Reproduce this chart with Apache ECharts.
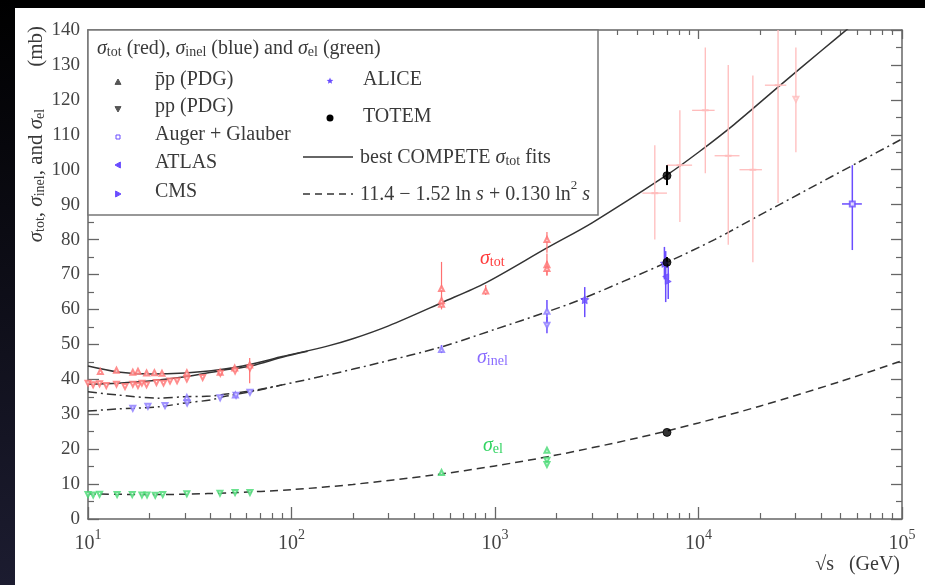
<!DOCTYPE html>
<html>
<head>
<meta charset="utf-8">
<title>pp cross sections</title>
<script src="https://cdn.jsdelivr.net/npm/echarts@6/dist/echarts.min.js"></script>
<style>
  html, body { margin: 0; padding: 0; background: #fff; }
  #chart { width: 925px; height: 585px; }
</style>
</head>
<body>
<div id="chart"></div>
<script>
// sqrt(s) in GeV, cross sections in mb
var xTickValues = [10, 100, 1000, 10000, 100000];
var xTickExps = ['1', '2', '3', '4', '5'];
var yTicks = [0, 10, 20, 30, 40, 50, 60, 70, 80, 90, 100, 110, 120, 130, 140];

// fit curves
var fitTotPbarp = [[10,43.8],[14,42.1],[20,41.5],[30,41.8],[44,42.7],[64,44.4],[90,46.5],[150,49.5],[200,51.6],[300,55.3],[550,62.0],[900,67.6],[1800,77.6],[3000,84.8],[7000,98.5],[10000,105],[15000,113],[25000,124],[40000,134],[60000,142.5]];
var fitTotPp = [[10,38.6],[14,38.9],[20,39.5],[30,40.7],[44,42.4],[64,43.9],[90,46.3],[120,48.0]];
var fitInelPbarp = [[10,36.4],[14,35.5],[22,34.6],[30,35.0],[40,35.2],[48,35.8],[64,36.7],[90,38.4],[150,41.2],[270,44.7],[540,49.2],[1000,54.3],[1800,59.3],[2600,62.7],[7000,73.5],[12000,80.0],[20000,87.0],[34000,94.2],[60000,101.9],[100000,108.8]];
var fitInelPp = [[10,30.9],[14,31.5],[22,32.1],[30,33.2],[40,34.1],[48,35.2],[64,36.5],[90,38.4]];
var fitEl = [[10,7.2],[20,7.0],[30,7.1],[50,7.5],[100,8.4],[200,9.9],[500,12.6],[1000,15.2],[2000,18.3],[5000,23.2],[10000,27.5],[20000,32.3],[50000,39.4],[100000,45.3]];

// sigma_tot points
var pbarpTot = [[11.5,42.2],[13.8,42.6],[16.6,42.0],[17.6,42.3],[19.4,41.8],[21.2,41.9],[23.1,41.7],[30.6,41.9],[44.6,42.0],[52.6,43.2],[62.3,44.1],[546,61.5],[546,62.5],[546,66.0],[900,65.3],[1800,80.0],[1800,72.8],[1800,71.7]];
var ppTot = [[10.0,38.9],[10.6,38.4],[11.4,38.7],[12.3,38.2],[13.8,38.6],[15.2,37.9],[16.6,38.6],[17.6,38.2],[18.4,38.9],[19.4,38.4],[21.7,39.1],[23.5,38.9],[25.3,39.5],[27.4,39.6],[30.6,40.1],[36.6,40.5],[44.7,41.7],[52.8,42.4],[62.5,43.2]];
var cosmicTot = [[6100,93.3],[8100,101.3],[10800,117],[14000,104],[18500,100],[24600,124.2]];
var cosmicTotPp = [[30100,120.2]];

// sigma_inel points
var pbarpInel = [[30.6,34.8],[53.0,35.5],[546,48.5],[1800,59.5]];
var ppInel = [[16.6,31.7],[19.7,32.3],[23.9,32.5],[30.7,33.2],[44.6,34.7],[53.4,35.4],[62.5,36.3],[1800,55.5]];
var augerInel = [[57000,90.2]];
var atlasInel = [[6900,69.4]];
var cmsInel = [[7100,68.0]];
var aliceInel = [[2760,62.8],[6800,73.2]];

// sigma_el points
var pbarpEl = [[546,13.3],[1800,19.7]];
var ppEl = [[10,7.0],[10.6,6.9],[11.4,7.1],[13.9,7.0],[16.5,7.0],[18.4,6.9],[19.5,6.9],[21.4,6.8],[23.3,7.0],[30.6,7.2],[44.5,7.4],[52.8,7.6],[62.5,7.6],[1800,16.8],[1800,15.6]];

// TOTEM: tot, inel, el at 7 TeV
var totem = [[7000,98.3],[7000,73.5],[7000,24.8]];

// error bars: [x, y, yLow, yHigh, xLow, xHigh]
var errRed = [[62.3,44.1,38.9,46.1,62.3,62.3],[546,66.0,60.0,73.6,546,546],[546,62.5,61.0,64.0,546,546],[900,65.3,64.1,67.0,900,900],[1800,80.0,76.2,82.2,1800,1800],[1800,72.8,69.7,76.0,1800,1800],[1800,71.7,69.7,73.7,1800,1800]];
var errCosmic = [[6100,93.3,80,107,5300,7000],[8100,101.3,85,117,7000,9300],[10800,117,99,135,9300,12000],[14000,104,78.5,130,12000,15900],[18500,100,73.5,127,15900,20500],[24600,124.2,90.5,140,21200,27000],[30100,120.2,105,135,30100,30100]];
var errBlue = [[546,48.5,47.5,49.8,546,546],[1800,59.5,56.5,62.7,1800,1800],[1800,55.5,53.2,57.8,1800,1800],[2760,62.8,57.8,66.4,2760,2760],[6800,73.2,68.6,77.9,6800,6800],[6900,69.4,62.1,76.7,6900,6900],[7100,68.0,63.0,73.0,7100,7100],[57000,90.2,77,101.3,50700,63500]];
var errBlack = [[7000,98.3,95.6,101.3,7000,7000],[7000,73.5,72.0,75.0,7000,7000]];

var xMinor = [];
[10, 100, 1000, 10000].forEach(function (d) {
  for (var k = 2; k <= 9; k++) xMinor.push(d * k);
});

var serif = 'Liberation Serif';
var ink = '#3a3a3a';
var axisGray = '#666';
var cRed = '#ff7070', cPink = '#ffbcbc', cBlue = '#8a78ff', cBlueDark = '#6a4dff', cGreen = '#45da72';

function rich(color, size) {
  size = size || 20;
  function st(extra) {
    return Object.assign({ fontFamily: serif, fontSize: size, lineHeight: 26, verticalAlign: 'bottom', color: color, fill: color }, extra);
  }
  return {
    n: st({}),
    s: st({ fontStyle: 'italic' }),
    sub: st({ fontSize: Math.round(size * 0.68), lineHeight: 14 }),
    sup: st({ fontSize: Math.round(size * 0.65), lineHeight: 14, verticalAlign: 'top' })
  };
}

function errorBars(color, width) {
  return function (params, api) {
    var x = api.value(0), y = api.value(1);
    var lo = api.coord([x, api.value(2)]), hi = api.coord([x, api.value(3)]);
    var kids = [{ type: 'line', shape: { x1: lo[0], y1: lo[1], x2: hi[0], y2: hi[1] }, style: { stroke: color, lineWidth: width } }];
    if (api.value(5) > api.value(4)) {
      var a = api.coord([api.value(4), y]), b = api.coord([api.value(5), y]);
      kids.push({ type: 'line', shape: { x1: a[0], y1: a[1], x2: b[0], y2: b[1] }, style: { stroke: color, lineWidth: width } });
    }
    return { type: 'group', children: kids };
  };
}

var starPath = 'path://M0,-10L2.9,-4L9.5,-3.1L4.7,1.5L5.9,8.1L0,5L-5.9,8.1L-4.7,1.5L-9.5,-3.1L-2.9,-4Z';

function fitLine(data, dash, width) {
  return { type: 'line', data: data, smooth: 0.3, showSymbol: false, symbol: 'none', silent: true, z: 3,
    lineStyle: { color: '#333', width: width || 1.5, type: dash || 'solid' } };
}
function pts(data, symbol, color, size, rotate) {
  return { type: 'scatter', data: data, symbol: symbol, symbolSize: size || 5, symbolRotate: rotate || 0, z: 6,
    itemStyle: { color: color, borderColor: color, borderWidth: 1 } };
}
function errs(data, color, width) {
  return { type: 'custom', data: data, renderItem: errorBars(color, width || 1.2), encode: { x: 0, y: 1 }, clip: true, z: 4, silent: true };
}

// legend box and labels
function text(x, y, str, opts) {
  opts = opts || {};
  return { type: 'text', x: x, y: y, rotation: opts.rotation || 0, z: 60,
    style: { text: str, rich: opts.rich, fill: opts.color || ink, font: (opts.size || 20) + 'px ' + serif,
      align: opts.align || 'left', verticalAlign: 'middle' } };
}
function tri(cx, cy, r, dir, color, fill) {
  var p;
  if (dir === 'up') p = [[cx, cy - r], [cx + r, cy + r * 0.8], [cx - r, cy + r * 0.8]];
  else if (dir === 'down') p = [[cx, cy + r], [cx + r, cy - r * 0.8], [cx - r, cy - r * 0.8]];
  else if (dir === 'left') p = [[cx - r, cy], [cx + r * 0.8, cy - r], [cx + r * 0.8, cy + r]];
  else p = [[cx + r, cy], [cx - r * 0.8, cy - r], [cx - r * 0.8, cy + r]];
  return { type: 'polygon', z: 61, shape: { points: p }, style: { fill: fill, stroke: color, lineWidth: 1 } };
}
function star(cx, cy, r, color) {
  var p = [];
  for (var i = 0; i < 10; i++) {
    var a = -Math.PI / 2 + i * Math.PI / 5, rr = i % 2 ? r * 0.45 : r;
    p.push([cx + rr * Math.cos(a), cy + rr * Math.sin(a)]);
  }
  return { type: 'polygon', z: 61, shape: { points: p }, style: { fill: color } };
}

var graphic = [
  { type: 'rect', z: 55, shape: { x: 88, y: 30, width: 510, height: 185 }, style: { fill: '#fff', stroke: '#777', lineWidth: 1.5 } },
  text(97, 46, '{s|σ}{sub|tot}{n| (red), }{s|σ}{sub|inel}{n| (blue) and }{s|σ}{sub|el}{n| (green)}', { rich: rich(ink) }),
  tri(118, 82, 3, 'up', '#555', '#555'), text(155, 80, 'p\u0304p (PDG)'),
  tri(118, 109, 3, 'down', '#555', '#555'), text(155, 107, 'pp (PDG)'),
  { type: 'rect', z: 61, shape: { x: 116, y: 135, width: 4, height: 4 }, style: { fill: '#fff', stroke: cBlueDark, lineWidth: 1 } },
  text(155, 135, 'Auger + Glauber'),
  tri(118, 165, 3, 'left', cBlueDark, cBlueDark), text(155, 163, 'ATLAS'),
  tri(118, 194, 3, 'right', cBlueDark, cBlueDark), text(155, 192, 'CMS'),
  star(330, 81, 3.5, cBlueDark), text(363, 80, 'ALICE'),
  { type: 'circle', z: 61, shape: { cx: 330, cy: 118, r: 3.5 }, style: { fill: '#000' } },
  text(363, 117, 'TOTEM'),
  { type: 'line', z: 61, shape: { x1: 303, y1: 157, x2: 353, y2: 157 }, style: { stroke: '#333', lineWidth: 1.4 } },
  text(360, 155, '{n|best COMPETE }{s|σ}{sub|tot}{n| fits}', { rich: rich(ink) }),
  { type: 'line', z: 61, shape: { x1: 303, y1: 194, x2: 353, y2: 194 }, style: { stroke: '#333', lineWidth: 1.4, lineDash: [7, 5] } },
  text(360, 192, '{n|11.4 − 1.52 ln }{s|s}{n| + 0.130 ln}{sup|2}{n| }{s|s}', { rich: rich(ink) }),

  text(480, 256, '{s|σ}{sub|tot}', { rich: rich('#ff3b3b') }),
  text(477, 355, '{s|σ}{sub|inel}', { rich: rich('#8a6cff') }),
  text(483, 443, '{s|σ}{sub|el}', { rich: rich('#33d463') }),

  text(34, 26, '{s|σ}{sub|tot}{n|, }{s|σ}{sub|inel}{n|, and }{s|σ}{sub|el}{n|        (mb)}', { rich: rich(ink, 21), rotation: Math.PI / 2, align: 'right' }),
  text(900, 565, '√s   (GeV)', { align: 'right', size: 20 }),

  // dark frame around the screenshot
  { type: 'rect', z: 100, shape: { x: 0, y: 0, width: 925, height: 8 }, style: { fill: '#000' } },
  { type: 'rect', z: 100, shape: { x: 0, y: 0, width: 15, height: 585 },
    style: { fill: new echarts.graphic.LinearGradient(0, 0, 0, 1, [{ offset: 0, color: '#000' }, { offset: 1, color: '#1c1c30' }]) } }
];

var xLog = { type: 'log', logBase: 10, min: 10, max: 100000, splitLine: { show: false } };

var option = {
  backgroundColor: '#fff',
  animation: false,
  grid: { left: 88, right: 23, top: 30, bottom: 66 },
  xAxis: [
    Object.assign({}, xLog, {
      position: 'bottom',
      axisLine: { lineStyle: { color: axisGray, width: 1.5 } },
      axisTick: { inside: true, length: 12, customValues: xTickValues, lineStyle: { color: axisGray, width: 1.3 } },
      axisLabel: {
        customValues: xTickValues, margin: 9,
        formatter: function (v) {
          var i = xTickValues.indexOf(v);
          if (i < 0) i = Math.round(Math.log(v) / Math.LN10) - 1;
          return '{b|10}{e|' + xTickExps[i] + '}';
        },
        rich: {
          b: { fontFamily: serif, fontSize: 20, color: '#444', lineHeight: 26, verticalAlign: 'bottom' },
          e: { fontFamily: serif, fontSize: 14, color: '#444', lineHeight: 14, verticalAlign: 'top' }
        }
      }
    }),
    Object.assign({}, xLog, {
      position: 'bottom',
      axisLine: { show: false }, axisLabel: { show: false },
      axisTick: { inside: true, length: 6, customValues: xMinor, lineStyle: { color: axisGray, width: 1.2 } }
    }),
    Object.assign({}, xLog, {
      position: 'top',
      axisLine: { lineStyle: { color: axisGray, width: 1.5 } }, axisLabel: { show: false },
      axisTick: { inside: true, length: 9, customValues: xTickValues, lineStyle: { color: axisGray, width: 1.3 } }
    }),
    Object.assign({}, xLog, {
      position: 'top',
      axisLine: { show: false }, axisLabel: { show: false },
      axisTick: { inside: true, length: 5, customValues: xMinor, lineStyle: { color: axisGray, width: 1.2 } }
    })
  ],
  yAxis: [
    {
      type: 'value', min: 0, max: 140, interval: 10, position: 'left',
      splitLine: { show: false },
      axisLine: { show: true, lineStyle: { color: axisGray, width: 1.5 } },
      axisTick: { inside: true, length: 11, lineStyle: { color: axisGray, width: 1.3 } },
      minorTick: { show: true, splitNumber: 2, length: 6, lineStyle: { color: axisGray, width: 1.2 } },
      axisLabel: { margin: 8, fontFamily: serif, fontSize: 19, color: '#444',
        formatter: function (v) { return yTicks.indexOf(v) >= 0 ? String(v) : ''; } }
    },
    {
      type: 'value', min: 0, max: 140, interval: 10, position: 'right',
      splitLine: { show: false },
      axisLine: { show: true, lineStyle: { color: axisGray, width: 1.5 } },
      axisTick: { inside: true, length: 11, lineStyle: { color: axisGray, width: 1.3 } },
      minorTick: { show: true, splitNumber: 2, length: 6, lineStyle: { color: axisGray, width: 1.2 } },
      axisLabel: { show: false }
    }
  ],
  graphic: graphic,
  series: [
    fitLine(fitTotPbarp, 'solid'),
    fitLine(fitTotPp, 'solid'),
    fitLine(fitInelPbarp, [9, 4, 2, 4]),
    fitLine(fitInelPp, [9, 4, 2, 4]),
    fitLine(fitEl, [8, 5]),

    errs(errCosmic, cPink, 1.3),
    errs(errRed, cRed, 1.2),
    errs(errBlue, cBlueDark, 1.5),
    errs(errBlack, '#000', 2),

    pts(cosmicTot, 'rect', cPink, [5, 1.5]),
    pts(cosmicTotPp, 'emptyTriangle', cPink, 5, 180),
    pts(pbarpTot, 'emptyTriangle', cRed, 5),
    pts(ppTot, 'emptyTriangle', cRed, 5, 180),
    pts(pbarpInel, 'emptyTriangle', cBlue, 5),
    pts(ppInel, 'emptyTriangle', cBlue, 5, 180),
    pts(augerInel, 'emptyRect', cBlueDark, 5),
    pts(atlasInel, 'triangle', cBlueDark, 6, 90),
    pts(cmsInel, 'triangle', cBlueDark, 6, -90),
    pts(aliceInel, starPath, cBlueDark, 8),
    pts(pbarpEl, 'emptyTriangle', cGreen, 5),
    pts(ppEl, 'emptyTriangle', cGreen, 5, 180),
    pts(totem, 'circle', '#000', 8)
  ]
};

var chart = echarts.init(document.getElementById('chart'));
chart.setOption(option);
window.onresize = function () { chart.resize(); };
</script>
</body>
</html>
